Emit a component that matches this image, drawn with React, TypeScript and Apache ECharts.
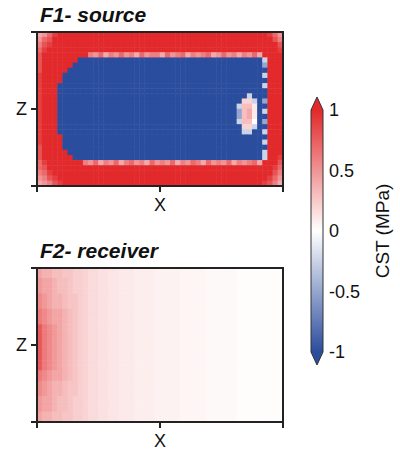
import { useEffect, useRef } from 'react';
import * as echarts from 'echarts';

// Value code for each character of the field maps (CST in MPa)
const LEVELS: Record<string, number> = {
  B: -1, M: -0.5, N: -0.25,
  '0': 0, '1': 0.1, '2': 0.2, '3': 0.3, '4': 0.4, '5': 0.5, '6': 0.6, '7': 0.7, '8': 0.8, '9': 0.9,
  R: 1,
  a: 0.015, b: 0.03, c: 0.045, d: 0.06, e: 0.08, f: 0.1, g: 0.12, h: 0.14, i: 0.17, j: 0.2,
  k: 0.23, l: 0.27, m: 0.31, n: 0.36, o: 0.42, p: 0.48, q: 0.55, r: 0.62, s: 0.7, t: 0.78,
};

// F1 - source: 48 columns (X) x 30 rows (Z, top row first)
const F1_SOURCE = [
  '4579RRRR RRRRRRRR RRRRRRRR RRRRRRRR RRRRRRRR RRRRR975',
  '578RRRRR RRRRRRRR RRRRRRRR RRRRRRRR RRRRRRRR RRRRRR86',
  '689RRRRR RRRRRRRR RRRRRRRR RRRRRRRR RRRRRRRR RRRRRRR8',
  '79RRRRRR RRRRRRRR RRRRRRRR RRRRRRRR RRRRRRRR RRRRRRR9',
  '8RRRRRRR RR657465 75647566 47567465 67457564 6574RRRR',
  '8RRRRRRR BBBBBBBB BBBBBBBB BBBBBBBB BBBBBBBB BBBBNRRR',
  '8RRRRRRB BBBBBBBB BBBBBBBB BBBBBBBB BBBBBBBB BBBBMRRR',
  '8RRRRRBB BBBBBBBB BBBBBBBB BBBBBBBB BBBBBBBB BBBBBRRR',
  '9RRRRBBB BBBBBBBB BBBBBBBB BBBBBBBB BBBBBBBB BBBBNRRR',
  '9RRRRBBB BBBBBBBB BBBBBBBB BBBBBBBB BBBBBBBB BBBBBRRR',
  '9RRRBBBB BBBBBBBB BBBBBBBB BBBBBBBB BBBBBBBB BBBBNRRR',
  '9RRRBBBB BBBBBBBB BBBBBBBB BBBBBBBB BBBBBBBB BBBBBRRR',
  '9RRRBBBB BBBBBBBB BBBBBBBB BBBBBBBB BBBBBBBB BNBBBRRR',
  '9RRRBBBB BBBBBBBB BBBBBBBB BBBBBBBB BBBBBBBB 22NBMRRR',
  '9RRRBBBB BBBBBBBB BBBBBBBB BBBBBBBB BBBBBBBN 331BBRRR',
  '9RRRBBBB BBBBBBBB BBBBBBBB BBBBBBBB BBBBBBBM 341BNRRR',
  '9RRRBBBB BBBBBBBB BBBBBBBB BBBBBBBB BBBBBBBM 341BBRRR',
  '9RRRBBBB BBBBBBBB BBBBBBBB BBBBBBBB BBBBBBBN 330BMRRR',
  '9RRRBBBB BBBBBBBB BBBBBBBB BBBBBBBB BBBBBBBB 22NBBRRR',
  '9RRRBBBB BBBBBBBB BBBBBBBB BBBBBBBB BBBBBBBB NNBBNRRR',
  '9RRRRBBB BBBBBBBB BBBBBBBB BBBBBBBB BBBBBBBB BBBBBRRR',
  '9RRRRBBB BBBBBBBB BBBBBBBB BBBBBBBB BBBBBBBB BBBBNRRR',
  '8RRRRBBB BBBBBBBB BBBBBBBB BBBBBBBB BBBBBBBB BBBBBRRR',
  '8RRRRRBB BBBBBBBB BBBBBBBB BBBBBBBB BBBBBBBB BBBBNRRR',
  '8RRRRRRB BBBBBBBB BBBBBBBB BBBBBBBB BBBBBBBB BBBBNRR9',
  '79RRRRRR R6574657 46756475 65746576 47565746 5674RRR8',
  '78RRRRRR RRRRRRRR RRRRRRRR RRRRRRRR RRRRRRRR RRRRRR97',
  '679RRRRR RRRRRRRR RRRRRRRR RRRRRRRR RRRRRRRR RRRRRR86',
  '5689RRRR RRRRRRRR RRRRRRRR RRRRRRRR RRRRRRRR RRRRR975',
  '45689RRR RRRRRRRR RRRRRRRR RRRRRRRR RRRRRRRR RRRR9864',
];

// F2 - receiver: 48 columns (X) x 30 rows (Z, top row first)
const F2_RECEIVER = [
  'onnmmllkkjii hhggfffeeeedddddcccccbbbbbbaaaaaaaaa',
  'onnmmllkkjii hhggfffeeeedddddcccccbbbbbbaaaaaaaaa',
  'poonmmlkkjii hhggfffeeeedddddcccccbbbbbbaaaaaaaaa',
  'poonmmlkkjii hhggfffeeeedddddcccccbbbbbbaaaaaaaaa',
  'poonmmlkkjii hhggfffeeeedddddcccccbbbbbbaaaaaaaaa',
  'qponnmllkjii hhggfffeeeedddddcccccbbbbbbaaaaaaaaa',
  'qponnmllkjii hhggfffeeeedddddcccccbbbbbbaaaaaaaaa',
  'qponnmllkjii hhggfffeeeedddddcccccbbbbbbaaaaaaaaa',
  'rqpoonmlkjii hhggfffeeeedddddcccccbbbbbbaaaaaaaaa',
  'rqpoonmlkjii hhggfffeeeedddddcccccbbbbbbaaaaaaaaa',
  'rqpoonmlkjii hhggfffeeeedddddcccccbbbbbbaaaaaaaaa',
  'trqponmlkjii hhggfffeeeedddddcccccbbbbbbaaaaaaaaa',
  'trqponmlkjii hhggfffeeeedddddcccccbbbbbbaaaaaaaaa',
  'trqponmlkjii hhggfffeeeedddddcccccbbbbbbaaaaaaaaa',
  'trqponmlkjii hhggfffeeeedddddcccccbbbbbbaaaaaaaaa',
  'trqponmlkjii hhggfffeeeedddddcccccbbbbbbaaaaaaaaa',
  'trqponmlkjii hhggfffeeeedddddcccccbbbbbbaaaaaaaaa',
  'trqponmlkjii hhggfffeeeedddddcccccbbbbbbaaaaaaaaa',
  'trqponmlkjii hhggfffeeeedddddcccccbbbbbbaaaaaaaaa',
  'trqponmlkjii hhggfffeeeedddddcccccbbbbbbaaaaaaaaa',
  'rqpoonmlkjii hhggfffeeeedddddcccccbbbbbbaaaaaaaaa',
  'rqpoonmlkjii hhggfffeeeedddddcccccbbbbbbaaaaaaaaa',
  'qponnmllkjii hhggfffeeeedddddcccccbbbbbbaaaaaaaaa',
  'qponnmllkjii hhggfffeeeedddddcccccbbbbbbaaaaaaaaa',
  'qponnmllkjii hhggfffeeeedddddcccccbbbbbbaaaaaaaaa',
  'poonmmlkkjii hhggfffeeeedddddcccccbbbbbbaaaaaaaaa',
  'poonmmlkkjii hhggfffeeeedddddcccccbbbbbbaaaaaaaaa',
  'poonmmlkkjii hhggfffeeeedddddcccccbbbbbbaaaaaaaaa',
  'onnmmllkkjii hhggfffeeeedddddcccccbbbbbbaaaaaaaaa',
  'onnmmllkkjii hhggfffeeeedddddcccccbbbbbbaaaaaaaaa',
];

const PANEL_TITLES = ['F1- source', 'F2- receiver'];
const AXIS_NAMES = { x: 'X', z: 'Z' };
const COLORBAR_NAME = 'CST (MPa)';
const COLOR_MIN = -1;
const COLOR_MAX = 1;
const COLOR_STEP = 0.5;

const BLUE = '#2b4d9d';
const WHITE = '#ffffff';
const RED = '#e2292b';
const AX = '#222222';
const FONT = "'Liberation Sans', Arial, Helvetica, sans-serif";

function parseRows(rows: string[]) {
  return rows.map((r) => r.replace(/\s+/g, ''));
}

function toCells(rows: string[]) {
  const out: number[][] = [];
  rows.forEach((row, j) => {
    for (let i = 0; i < row.length; i++) {
      const v = LEVELS[row[i]];
      out.push([i, j, v === undefined ? 0 : v]);
    }
  });
  return out;
}

const ls = () => ({ color: AX, width: 2 });

export default function App() {
  const ref = useRef<HTMLDivElement>(null);

  useEffect(() => {
    if (!ref.current) return;
    const chart = echarts.init(ref.current, undefined, { renderer: 'svg' });

    const top = parseRows(F1_SOURCE);
    const bot = parseRows(F2_RECEIVER);
    const nx = top[0].length;
    const ny = top.length;
    const xCats = Array.from({ length: nx }, (_, i) => String(i));
    const yCats = Array.from({ length: ny }, (_, i) => String(i));

    const panels = [
      { left: 37, top: 32, width: 246, height: 154 },
      { left: 37, top: 268, width: 246, height: 154 },
    ];
    const cb = { left: 311, top: 110, width: 12, height: 242, arrow: 13 };

    const xAxes: any[] = [];
    const yAxes: any[] = [];
    panels.forEach((_, g) => {
      xAxes.push({
        type: 'category', gridIndex: g, data: xCats, position: 'top', z: 10,
        axisLine: { show: true, onZero: false, lineStyle: ls() }, axisTick: { show: false }, axisLabel: { show: false },
        splitLine: { show: false },
      });
      xAxes.push({
        type: 'value', gridIndex: g, position: 'bottom', min: 0, max: 2, interval: 1, z: 10,
        axisLine: { show: true, onZero: false, lineStyle: ls() },
        axisTick: { show: true, length: 6, lineStyle: ls() },
        axisLabel: {
          margin: 10, fontSize: 18, color: '#111', fontFamily: FONT,
          formatter: (v: number) => (v === 1 ? AXIS_NAMES.x : ''),
        },
        splitLine: { show: false },
      });
      yAxes.push({
        type: 'category', gridIndex: g, data: yCats, position: 'right', inverse: true, z: 10,
        axisLine: { show: true, onZero: false, lineStyle: ls() }, axisTick: { show: false }, axisLabel: { show: false },
        splitLine: { show: false },
      });
      yAxes.push({
        type: 'value', gridIndex: g, position: 'left', min: 0, max: 2, interval: 1, z: 10,
        axisLine: { show: true, onZero: false, lineStyle: ls() },
        axisTick: { show: true, length: 6, lineStyle: ls() },
        axisLabel: {
          margin: 10, fontSize: 18, color: '#111', fontFamily: FONT,
          formatter: (v: number) => (v === 1 ? AXIS_NAMES.z : ''),
        },
        splitLine: { show: false },
      });
    });
    // colour bar axis
    xAxes.push({ type: 'value', gridIndex: 2, show: false, min: 0, max: 1 });
    yAxes.push({
      type: 'value', gridIndex: 2, position: 'right', min: COLOR_MIN, max: COLOR_MAX, interval: COLOR_STEP,
      z: 10,
      axisLine: { show: false },
      axisTick: { show: true, length: 5, lineStyle: { color: AX, width: 1.5 } },
      axisLabel: { margin: 6, fontSize: 18, color: '#111', fontFamily: FONT },
      splitLine: { show: false },
      name: COLORBAR_NAME, nameLocation: 'middle', nameRotate: 90, nameGap: 50,
      nameTextStyle: { fontSize: 19, color: '#111', fontFamily: FONT },
    });

    const x0 = cb.left, x1 = cb.left + cb.width, xm = cb.left + cb.width / 2;
    const yTip = cb.top - cb.arrow, yBot = cb.top + cb.height, yTip2 = yBot + cb.arrow;
    const total = yTip2 - yTip;

    const frames = panels.map((p) => ({
      type: 'rect', z: 100,
      shape: { x: p.left, y: p.top, width: p.width, height: p.height },
      style: { fill: 'transparent', stroke: AX, lineWidth: 2 },
    }));

    const option: any = {
      animation: false,
      backgroundColor: '#ffffff',
      title: PANEL_TITLES.map((t, g) => ({
        text: t,
        left: panels[g].left + 3,
        top: panels[g].top - 28,
        padding: 0,
        textStyle: { fontSize: 21, fontWeight: 'bold', fontStyle: 'italic', color: '#111', fontFamily: FONT },
      })),
      grid: [
        ...panels.map((p) => ({ ...p, containLabel: false })),
        { left: cb.left, top: cb.top, width: cb.width, height: cb.height },
      ],
      xAxis: xAxes,
      yAxis: yAxes,
      visualMap: {
        type: 'continuous', show: false, min: COLOR_MIN, max: COLOR_MAX, seriesIndex: [0, 1],
        inRange: { color: [BLUE, WHITE, RED] },
      },
      series: [
        { type: 'heatmap', xAxisIndex: 0, yAxisIndex: 0, data: toCells(top), itemStyle: { borderWidth: 0 } },
        { type: 'heatmap', xAxisIndex: 2, yAxisIndex: 2, data: toCells(bot), itemStyle: { borderWidth: 0 } },
      ],
      graphic: [
        ...frames,
        {
          type: 'polygon', z: 100,
          shape: { points: [[xm, yTip], [x1, cb.top], [x1, yBot], [xm, yTip2], [x0, yBot], [x0, cb.top]] },
          style: {
            fill: new echarts.graphic.LinearGradient(0, 0, 0, 1, [
              { offset: 0, color: RED },
              { offset: cb.arrow / total, color: RED },
              { offset: 0.5, color: WHITE },
              { offset: 1 - cb.arrow / total, color: BLUE },
              { offset: 1, color: BLUE },
            ]),
            stroke: '#333', lineWidth: 1,
          },
        },
      ],
    };
    chart.setOption(option);
    return () => chart.dispose();
  }, []);

  return <div ref={ref} style={{ position: 'fixed', left: 0, top: 0, width: 400, height: 454 }} />;
}
